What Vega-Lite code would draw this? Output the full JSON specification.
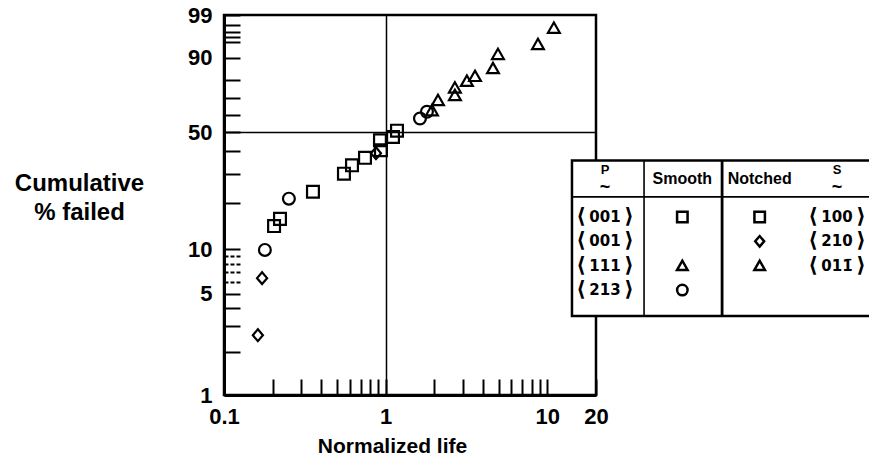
{
  "$schema": "https://vega.github.io/schema/vega-lite/v6.json",
  "width": 372,
  "height": 380,
  "autosize": {"type": "none"},
  "padding": {"left": 224, "top": 15, "right": 273, "bottom": 75},
  "background": "white",
  "config": {
    "font": "Liberation Sans",
    "view": {"stroke": "black", "strokeWidth": 2.5},
    "text": {"font": "Liberation Sans, DejaVu Sans", "fontWeight": "bold", "color": "black"}
  },
  "datasets": {
    "cells": [
      {"c": 1, "r": 1, "t": "001"},
      {"c": 1, "r": 2, "t": "001"},
      {"c": 1, "r": 3, "t": "111"},
      {"c": 1, "r": 4, "t": "213"},
      {"c": 4, "r": 1, "t": "100"},
      {"c": 4, "r": 2, "t": "210"},
      {"c": 4, "r": 3, "t": "011̄"}
    ]
  },
  "resolve": {"scale": {"x": "independent", "y": "independent"}},
  "layer": [
    {
      "data": {
        "values": [
          {"life": 0.162, "pct": 2.6, "marker": "diamond"},
          {"life": 0.172, "pct": 6.4, "marker": "diamond"},
          {"life": 0.179, "pct": 9.9, "marker": "circle"},
          {"life": 0.204, "pct": 14.2, "marker": "square"},
          {"life": 0.222, "pct": 15.8, "marker": "square"},
          {"life": 0.252, "pct": 21.2, "marker": "circle"},
          {"life": 0.355, "pct": 23.4, "marker": "square"},
          {"life": 0.552, "pct": 30.0, "marker": "square"},
          {"life": 0.619, "pct": 33.5, "marker": "square"},
          {"life": 0.745, "pct": 36.9, "marker": "square"},
          {"life": 0.871, "pct": 39.1, "marker": "diamond"},
          {"life": 0.935, "pct": 40.6, "marker": "square"},
          {"life": 0.922, "pct": 45.7, "marker": "square"},
          {"life": 1.11, "pct": 47.5, "marker": "square"},
          {"life": 1.175, "pct": 51.0, "marker": "square"},
          {"life": 1.63, "pct": 58.0, "marker": "circle"},
          {"life": 1.8, "pct": 62.0, "marker": "circle"},
          {"life": 1.934, "pct": 62.7, "marker": "triangle"},
          {"life": 2.107, "pct": 68.7, "marker": "triangle"},
          {"life": 2.68, "pct": 71.6, "marker": "triangle"},
          {"life": 2.68, "pct": 75.9, "marker": "triangle"},
          {"life": 3.18, "pct": 79.5, "marker": "triangle"},
          {"life": 3.57, "pct": 82.0, "marker": "triangle"},
          {"life": 4.61, "pct": 85.7, "marker": "triangle"},
          {"life": 4.95, "pct": 91.3, "marker": "triangle"},
          {"life": 8.75, "pct": 94.3, "marker": "triangle"},
          {"life": 10.98, "pct": 97.6, "marker": "triangle"}
        ]
      },
      "transform": [{"calculate": "-log(1 - datum.pct / 100)", "as": "hazard"}],
      "mark": {"type": "point", "filled": false, "stroke": "black", "strokeWidth": 2.2, "size": 140, "opacity": 1},
      "encoding": {
        "x": {
          "field": "life", "type": "quantitative",
          "scale": {"type": "log", "domain": [0.1, 20], "nice": false},
          "axis": {
            "values": [0.1, 0.2, 0.3, 0.4, 0.5, 0.6, 0.7, 0.8, 0.9, 1, 2, 3, 4, 5, 6, 7, 8, 9, 10, 20],
            "labelExpr": "indexof([0.1, 1, 10, 20], datum.value) >= 0 ? format(datum.value, '~g') : ''",
            "tickSize": -16, "tickWidth": 2, "tickColor": "black",
            "domainColor": "black", "domainWidth": 3,
            "labelFont": "Liberation Sans", "labelFontSize": 22, "labelFontWeight": "bold", "labelColor": "black",
            "labelPadding": 27, "labelFlush": false, "labelOverlap": false,
            "grid": true, "gridColor": "black", "gridWidth": 1.5,
            "gridOpacity": {"condition": {"test": "datum.value == 1", "value": 1}, "value": 0},
            "title": "Normalized life",
            "titleFont": "Liberation Sans", "titleFontSize": 21, "titleFontWeight": "bold", "titleColor": "black",
            "titleX": 168, "titleY": 51, "titleBaseline": "middle", "titleAlign": "center"
          }
        },
        "y": {
          "field": "hazard", "type": "quantitative",
          "scale": {"type": "log", "domain": [0.01005034, 4.60517019], "nice": false},
          "axis": {
            "values": [0.01005034, 0.02020271, 0.03045921, 0.04082199, 0.05129329, 0.0618754, 0.07257069, 0.08338161, 0.09431068, 0.10536052, 0.22314355, 0.35667494, 0.51082562, 0.69314718, 0.91629073, 1.2039728, 1.60943791, 2.30258509, 2.99573227, 3.21887582, 3.5065579, 3.91202301, 4.60517019],
            "labelExpr": "indexof([1, 5, 10, 50, 90, 99], round(100 * (1 - exp(-datum.value)))) >= 0 ? '' + round(100 * (1 - exp(-datum.value))) : ''",
            "tickSize": -16, "tickWidth": 2, "tickColor": "black",
            "tickDash": {"condition": {"test": "datum.value > 0.06 && datum.value < 0.1", "value": [4, 2]}, "value": []},
            "domainColor": "black", "domainWidth": 3,
            "labelFont": "Liberation Sans", "labelFontSize": 22, "labelFontWeight": "bold", "labelColor": "black",
            "labelPadding": 28, "labelFlush": false, "labelOverlap": false,
            "grid": true, "gridColor": "black", "gridWidth": 1.5,
            "gridOpacity": {"condition": {"test": "abs(datum.value - 0.69314718) < 0.0001", "value": 1}, "value": 0},
            "title": ["Cumulative", "% failed"],
            "titleFont": "Liberation Sans", "titleFontSize": 24, "titleFontWeight": "bold", "titleColor": "black",
            "titleAngle": 0, "titleX": -145, "titleY": 168, "titleBaseline": "middle", "titleAlign": "center",
            "titleLineHeight": 29
          }
        },
        "shape": {
          "field": "marker", "type": "nominal",
          "scale": {"domain": ["square", "diamond", "triangle", "circle"], "range": ["square", "M-0.85,0L0,-1L0.85,0L0,1Z", "M-1,0.8L0,-0.95L1,0.8Z", "circle"]},
          "legend": null
        }
      }
    },
    {
      "layer": [
        {
          "data": {"values": [{"c": 0.573, "c2": 4.7, "r": -1.31, "r2": 5.06}]},
          "mark": {"type": "rect", "fill": "white", "stroke": "black", "strokeWidth": 2.5},
          "encoding": {
            "x": {"field": "c", "type": "quantitative", "scale": {"domain": [1, 4], "range": [381, 613], "nice": false, "zero": false}, "axis": null},
            "x2": {"field": "c2"},
            "y": {"field": "r", "type": "quantitative", "scale": {"domain": [0, 4], "range": [177.5, 275.1], "nice": false, "zero": false}, "axis": null},
            "y2": {"field": "r2"}
          }
        },
        {
          "data": {"values": [{"c": 0.573, "c2": 4.7, "r": 0.18}]},
          "mark": {"type": "rule", "stroke": "black", "strokeWidth": 1.8},
          "encoding": {
            "x": {"field": "c", "type": "quantitative", "axis": null},
            "x2": {"field": "c2"},
            "y": {"field": "r", "type": "quantitative", "axis": null}
          }
        },
        {
          "data": {"values": [{"c": 1.505, "r": -1.31, "r2": 5.06}]},
          "mark": {"type": "rule", "stroke": "black", "strokeWidth": 1.6},
          "encoding": {
            "x": {"field": "c", "type": "quantitative", "axis": null},
            "y": {"field": "r", "type": "quantitative", "axis": null},
            "y2": {"field": "r2"}
          }
        },
        {
          "data": {"values": [{"c": 2.514, "r": -1.31, "r2": 5.06}]},
          "mark": {"type": "rule", "stroke": "black", "strokeWidth": 2.8},
          "encoding": {
            "x": {"field": "c", "type": "quantitative", "axis": null},
            "y": {"field": "r", "type": "quantitative", "axis": null},
            "y2": {"field": "r2"}
          }
        },
        {
          "data": {"values": [{"c": 2, "r": 0, "t": "Smooth"}, {"c": 3, "r": 0, "t": "Notched"}]},
          "mark": {"type": "text", "fontSize": 16, "fontWeight": "bold", "align": "center", "baseline": "middle", "dy": -13.5, "font": "Liberation Sans"},
          "encoding": {
            "x": {"field": "c", "type": "quantitative", "axis": null},
            "y": {"field": "r", "type": "quantitative", "axis": null},
            "text": {"field": "t"}
          }
        },
        {
          "data": {"values": [{"c": 1, "r": 0, "t": "P"}, {"c": 4, "r": 0, "t": "S"}]},
          "mark": {"type": "text", "fontSize": 13, "fontWeight": "bold", "align": "center", "baseline": "middle", "dy": -23, "font": "Liberation Sans"},
          "encoding": {
            "x": {"field": "c", "type": "quantitative", "axis": null},
            "y": {"field": "r", "type": "quantitative", "axis": null},
            "text": {"field": "t"}
          }
        },
        {
          "data": {"values": [{"c": 1, "r": 0, "t": "~"}, {"c": 4, "r": 0, "t": "~"}]},
          "mark": {"type": "text", "fontSize": 18, "fontWeight": "bold", "align": "center", "baseline": "middle", "dy": -5, "font": "Liberation Sans"},
          "encoding": {
            "x": {"field": "c", "type": "quantitative", "axis": null},
            "y": {"field": "r", "type": "quantitative", "axis": null},
            "text": {"field": "t"}
          }
        },
        {
          "data": {"name": "cells"},
          "mark": {"type": "text", "fontSize": 15, "fontWeight": "bold", "align": "center", "baseline": "middle", "font": "DejaVu Sans"},
          "encoding": {
            "x": {"field": "c", "type": "quantitative", "axis": null},
            "y": {"field": "r", "type": "quantitative", "axis": null},
            "text": {"field": "t"}
          }
        },
        {
          "data": {"name": "cells"},
          "mark": {"type": "text", "text": "⟨", "fontSize": 21, "fontWeight": "bold", "align": "center", "baseline": "middle", "dx": -24, "font": "DejaVu Sans"},
          "encoding": {
            "x": {"field": "c", "type": "quantitative", "axis": null},
            "y": {"field": "r", "type": "quantitative", "axis": null}
          }
        },
        {
          "data": {"name": "cells"},
          "mark": {"type": "text", "text": "⟩", "fontSize": 21, "fontWeight": "bold", "align": "center", "baseline": "middle", "dx": 24, "font": "DejaVu Sans"},
          "encoding": {
            "x": {"field": "c", "type": "quantitative", "axis": null},
            "y": {"field": "r", "type": "quantitative", "axis": null}
          }
        },
        {
          "data": {"values": [
            {"c": 2, "r": 1, "marker": "square"},
            {"c": 2, "r": 3, "marker": "triangle"},
            {"c": 2, "r": 4, "marker": "circle"},
            {"c": 3, "r": 1, "marker": "square"},
            {"c": 3, "r": 2, "marker": "diamond"},
            {"c": 3, "r": 3, "marker": "triangle"}
          ]},
          "mark": {"type": "point", "filled": false, "stroke": "black", "strokeWidth": 2.5, "size": 110, "opacity": 1},
          "encoding": {
            "x": {"field": "c", "type": "quantitative", "axis": null},
            "y": {"field": "r", "type": "quantitative", "axis": null},
            "shape": {"field": "marker", "type": "nominal", "legend": null}
          }
        }
      ]
    }
  ]
}
